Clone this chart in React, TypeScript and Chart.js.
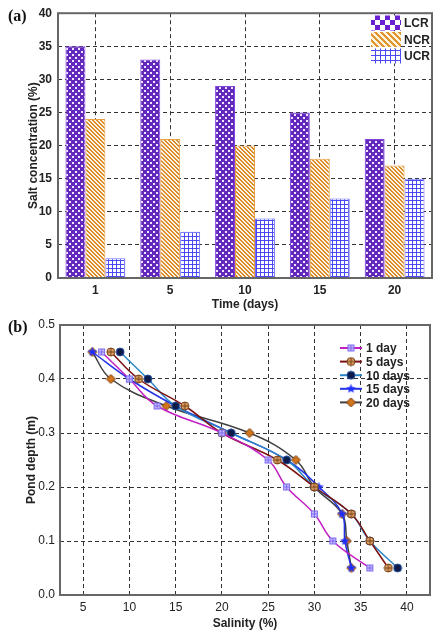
import React, { useEffect, useRef } from "react";
import { Chart, registerables } from "chart.js";

Chart.register(...registerables);

// (a) salt concentration per zone
const days = ["1", "5", "10", "15", "20"];
const lcrValues = [35, 33, 29, 25, 21];
const ncrValues = [24, 21, 20, 18, 17];
const ucrValues = [3, 7, 9, 12, 15];

// (b) salinity profiles, one value per depth level
const depthLevels = [0.45, 0.4, 0.35, 0.3, 0.25, 0.2, 0.15, 0.1, 0.05];
const salinityDay1 = [7, 10, 13, 20, 25, 27, 30, 32, 36];
const salinityDay5 = [8, 11, 16, 20, 26, 30, 34, 36, 38];
const salinityDay10 = [9, 12, 15, 21, 27, 30, 34, 36, 39];
const salinityDay15 = [6, 10, 15, 21, 27, 30.5, 33, 33.3, 34];
const salinityDay20 = [6, 8, 14, 23, 28, 30, 33, 33.5, 34];
const salinityTicks = [5, 10, 15, 20, 25, 30, 35, 40];

const FONT = "'Liberation Sans', Arial, sans-serif";

function tile(size: number, draw: (g: CanvasRenderingContext2D) => void) {
  const c = document.createElement("canvas");
  c.width = size;
  c.height = size;
  draw(c.getContext("2d")!);
  return c;
}

function stripes(size: number, band: number, bg: string, fg: string) {
  return tile(size, (g) => {
    g.fillStyle = bg;
    g.fillRect(0, 0, size, size);
    g.fillStyle = fg;
    for (let x = 0; x < size; x++)
      for (let y = 0; y < size; y++)
        if ((((x - y) % size) + size) % size < band) g.fillRect(x, y, 1, 1);
  });
}

const lcrTile = () =>
  tile(6, (g) => {
    g.fillStyle = "#6328bc";
    g.fillRect(0, 0, 6, 6);
    g.fillStyle = "#efe6ff";
    g.fillRect(0, 0, 2, 2);
    g.fillRect(3, 3, 2, 2);
  });
const lcrLegendTile = () =>
  tile(10, (g) => {
    g.fillStyle = "#ffffff";
    g.fillRect(0, 0, 10, 10);
    g.fillStyle = "#6a1fd0";
    g.fillRect(0, 0, 5, 5);
    g.fillRect(5, 5, 5, 5);
  });
const gridTile = (size: number) =>
  tile(size, (g) => {
    g.fillStyle = "#ffffff";
    g.fillRect(0, 0, size, size);
    g.fillStyle = "#4a4af5";
    g.fillRect(0, 0, size, 1);
    g.fillRect(0, 0, 1, size);
  });

// point markers
const squareMarker = () =>
  tile(9, (g) => {
    g.fillStyle = "#c8b8ff";
    g.fillRect(1, 1, 7, 7);
    g.strokeStyle = "#7c6cf0";
    g.lineWidth = 1;
    g.strokeRect(1.5, 1.5, 6, 6);
    g.beginPath();
    g.moveTo(4.5, 1.5);
    g.lineTo(4.5, 7.5);
    g.moveTo(1.5, 4.5);
    g.lineTo(7.5, 4.5);
    g.stroke();
  });
const circleMarker = (fill: string, stroke: string, cross: boolean) =>
  tile(10, (g) => {
    g.beginPath();
    g.arc(5, 5, 4, 0, Math.PI * 2);
    g.fillStyle = fill;
    g.fill();
    g.strokeStyle = stroke;
    g.lineWidth = 1;
    g.stroke();
    if (cross) {
      g.beginPath();
      g.moveTo(5, 1);
      g.lineTo(5, 9);
      g.moveTo(1, 5);
      g.lineTo(9, 5);
      g.stroke();
    }
  });
const starMarker = () =>
  tile(11, (g) => {
    g.beginPath();
    for (let i = 0; i < 10; i++) {
      const r = i % 2 === 0 ? 5 : 2.2;
      const a = -Math.PI / 2 + (i * Math.PI) / 5;
      const px = 5.5 + r * Math.cos(a);
      const py = 5.5 + r * Math.sin(a);
      if (i === 0) g.moveTo(px, py);
      else g.lineTo(px, py);
    }
    g.closePath();
    g.fillStyle = "#1f2fff";
    g.fill();
  });
const diamondMarker = () =>
  tile(11, (g) => {
    g.beginPath();
    g.moveTo(5.5, 1);
    g.lineTo(10, 5.5);
    g.lineTo(5.5, 10);
    g.lineTo(1, 5.5);
    g.closePath();
    g.fillStyle = "#d2761e";
    g.fill();
    g.strokeStyle = "#6b3000";
    g.lineWidth = 1;
    g.stroke();
  });

const framePlugin = {
  id: "frame",
  afterDatasetsDraw(chart: Chart) {
    const { ctx, chartArea } = chart;
    ctx.save();
    ctx.strokeStyle = "#666";
    ctx.lineWidth = 2;
    ctx.strokeRect(
      chartArea.left,
      chartArea.top,
      chartArea.right - chartArea.left,
      chartArea.bottom - chartArea.top
    );
    ctx.restore();
  },
};

const App = () => {
  const barRef = useRef<HTMLCanvasElement>(null);
  const lineRef = useRef<HTMLCanvasElement>(null);

  useEffect(() => {
    document.body.style.margin = "0";
    const barCtx = barRef.current!.getContext("2d")!;
    const lineCtx = lineRef.current!.getContext("2d")!;

    const fills = {
      lcr: barCtx.createPattern(lcrTile(), "repeat")!,
      ncr: barCtx.createPattern(stripes(4, 2, "#fdf3e3", "#d98a2a"), "repeat")!,
      ucr: barCtx.createPattern(gridTile(4), "repeat")!,
    };
    const legendFills = [
      barCtx.createPattern(lcrLegendTile(), "repeat")!,
      barCtx.createPattern(stripes(6, 3, "#fff4e0", "#e0962e"), "repeat")!,
      barCtx.createPattern(gridTile(5), "repeat")!,
    ];

    const barLegend = {
      id: "barLegend",
      afterDraw(chart: Chart) {
        const { ctx } = chart;
        ctx.save();
        ctx.font = `bold 12px ${FONT}`;
        ctx.textBaseline = "middle";
        chart.data.datasets.forEach((ds, i) => {
          const cy = 23 + i * 16.5;
          ctx.fillStyle = legendFills[i];
          ctx.fillRect(371, cy - 7.5, 30, 15);
          ctx.fillStyle = "#222";
          ctx.fillText(ds.label as string, 404, cy + 1);
        });
        ctx.restore();
      },
    };

    const barChart = new Chart(barCtx, {
      type: "bar",
      data: {
        labels: days,
        datasets: [
          { label: "LCR", data: lcrValues, backgroundColor: fills.lcr, borderColor: "#8044e0", borderWidth: 1 },
          { label: "NCR", data: ncrValues, backgroundColor: fills.ncr, borderColor: "#e8a040", borderWidth: 1 },
          { label: "UCR", data: ucrValues, backgroundColor: fills.ucr, borderColor: "#6a6aff", borderWidth: 1 },
        ],
      },
      options: {
        responsive: false,
        animation: false,
        layout: { padding: { left: 22, right: 8, top: 9, bottom: 0 } },
        plugins: { legend: { display: false }, tooltip: { enabled: false } },
        datasets: { bar: { categoryPercentage: 0.8, barPercentage: 1 } },
        scales: {
          x: {
            grid: { offset: false, color: "#333", drawTicks: false },
            border: { display: false, dash: [4, 3] },
            ticks: { font: { family: FONT, size: 12, weight: "bold" }, color: "#222", padding: 5 },
            title: {
              display: true,
              text: "Time (days)",
              font: { family: FONT, size: 12, weight: "bold" },
              color: "#222",
              padding: { top: 0, bottom: 6 },
            },
            afterFit: (s: any) => {
              s.height = 40;
            },
          },
          y: {
            min: 0,
            max: 40,
            grid: { color: "#333", drawTicks: false },
            border: { display: false, dash: [4, 3] },
            ticks: { stepSize: 5, font: { family: FONT, size: 12, weight: "bold" }, color: "#222", padding: 6 },
            title: {
              display: true,
              text: "Salt concentration (%)",
              font: { family: FONT, size: 12, weight: "bold" },
              color: "#222",
            },
            afterFit: (s: any) => {
              s.width = 36;
            },
          },
        },
      },
      plugins: [framePlugin, barLegend],
    });

    const series = [
      { label: "1 day", values: salinityDay1, color: "#c21fc2", marker: squareMarker() },
      { label: "5 days", values: salinityDay5, color: "#7d1010", marker: circleMarker("#d9a066", "#7a4216", true) },
      { label: "10 days", values: salinityDay10, color: "#2a86c8", marker: circleMarker("#0d1b4a", "#254f9a", false) },
      { label: "15 days", values: salinityDay15, color: "#2233e6", marker: starMarker() },
      { label: "20 days", values: salinityDay20, color: "#404040", marker: diamondMarker() },
    ];

    const lineLegend = {
      id: "lineLegend",
      afterDraw(chart: Chart) {
        const { ctx } = chart;
        ctx.save();
        ctx.font = `bold 12px ${FONT}`;
        ctx.textBaseline = "middle";
        series.forEach((s, i) => {
          const cy = 38 + i * 13.6;
          ctx.strokeStyle = s.color;
          ctx.lineWidth = 2;
          ctx.beginPath();
          ctx.moveTo(340, cy);
          ctx.lineTo(362, cy);
          ctx.stroke();
          ctx.drawImage(s.marker, 351 - s.marker.width / 2, cy - s.marker.height / 2);
          ctx.fillStyle = "#222";
          ctx.fillText(s.label, 366, cy + 1);
        });
        ctx.restore();
      },
    };

    const lineChart = new Chart(lineCtx, {
      type: "line",
      data: {
        datasets: series.map((s) => ({
          label: s.label,
          data: s.values.map((v, i) => ({ x: v, y: depthLevels[i] })),
          borderColor: s.color,
          borderWidth: 1.5,
          pointStyle: s.marker,
          pointRadius: 4,
          tension: 0.4,
          fill: false,
        })),
      },
      options: {
        responsive: false,
        animation: false,
        layout: { padding: { left: 20, right: 10, top: 15, bottom: 0 } },
        plugins: { legend: { display: false }, tooltip: { enabled: false } },
        scales: {
          x: {
            type: "linear",
            min: 2.5,
            max: 42.5,
            afterBuildTicks: (s: any) => {
              s.ticks = salinityTicks.map((v) => ({ value: v }));
            },
            grid: { color: "#333", drawTicks: false },
            border: { display: false, dash: [4, 3] },
            ticks: { font: { family: FONT, size: 12 }, color: "#222", padding: 5 },
            title: {
              display: true,
              text: "Salinity (%)",
              font: { family: FONT, size: 12, weight: "bold" },
              color: "#222",
              padding: { top: 0, bottom: 9 },
            },
            afterFit: (s: any) => {
              s.height = 45;
            },
          },
          y: {
            min: 0,
            max: 0.5,
            grid: { color: "#333", drawTicks: false },
            border: { display: false, dash: [4, 3] },
            ticks: {
              stepSize: 0.1,
              font: { family: FONT, size: 12 },
              color: "#222",
              padding: 5,
              callback: (v: any) => Number(v).toFixed(1),
            },
            title: {
              display: true,
              text: "Pond depth (m)",
              font: { family: FONT, size: 12, weight: "bold" },
              color: "#222",
            },
            afterFit: (s: any) => {
              s.width = 40;
            },
          },
        },
      },
      plugins: [framePlugin, lineLegend],
    });

    return () => {
      barChart.destroy();
      lineChart.destroy();
    };
  }, []);

  const panelLabel: React.CSSProperties = {
    position: "absolute",
    left: 8,
    fontFamily: "'Liberation Serif', 'Times New Roman', serif",
    fontWeight: "bold",
    fontSize: 16,
    lineHeight: "16px",
    color: "#111",
  };

  return (
    <div style={{ position: "relative", width: 440, height: 640, background: "#fff" }}>
      <canvas ref={barRef} width={440} height={318} style={{ position: "absolute", left: 0, top: 0 }} />
      <canvas ref={lineRef} width={440} height={330} style={{ position: "absolute", left: 0, top: 310 }} />
      <div style={{ ...panelLabel, top: 8 }}>(a)</div>
      <div style={{ ...panelLabel, top: 319 }}>(b)</div>
    </div>
  );
};

export default App;
